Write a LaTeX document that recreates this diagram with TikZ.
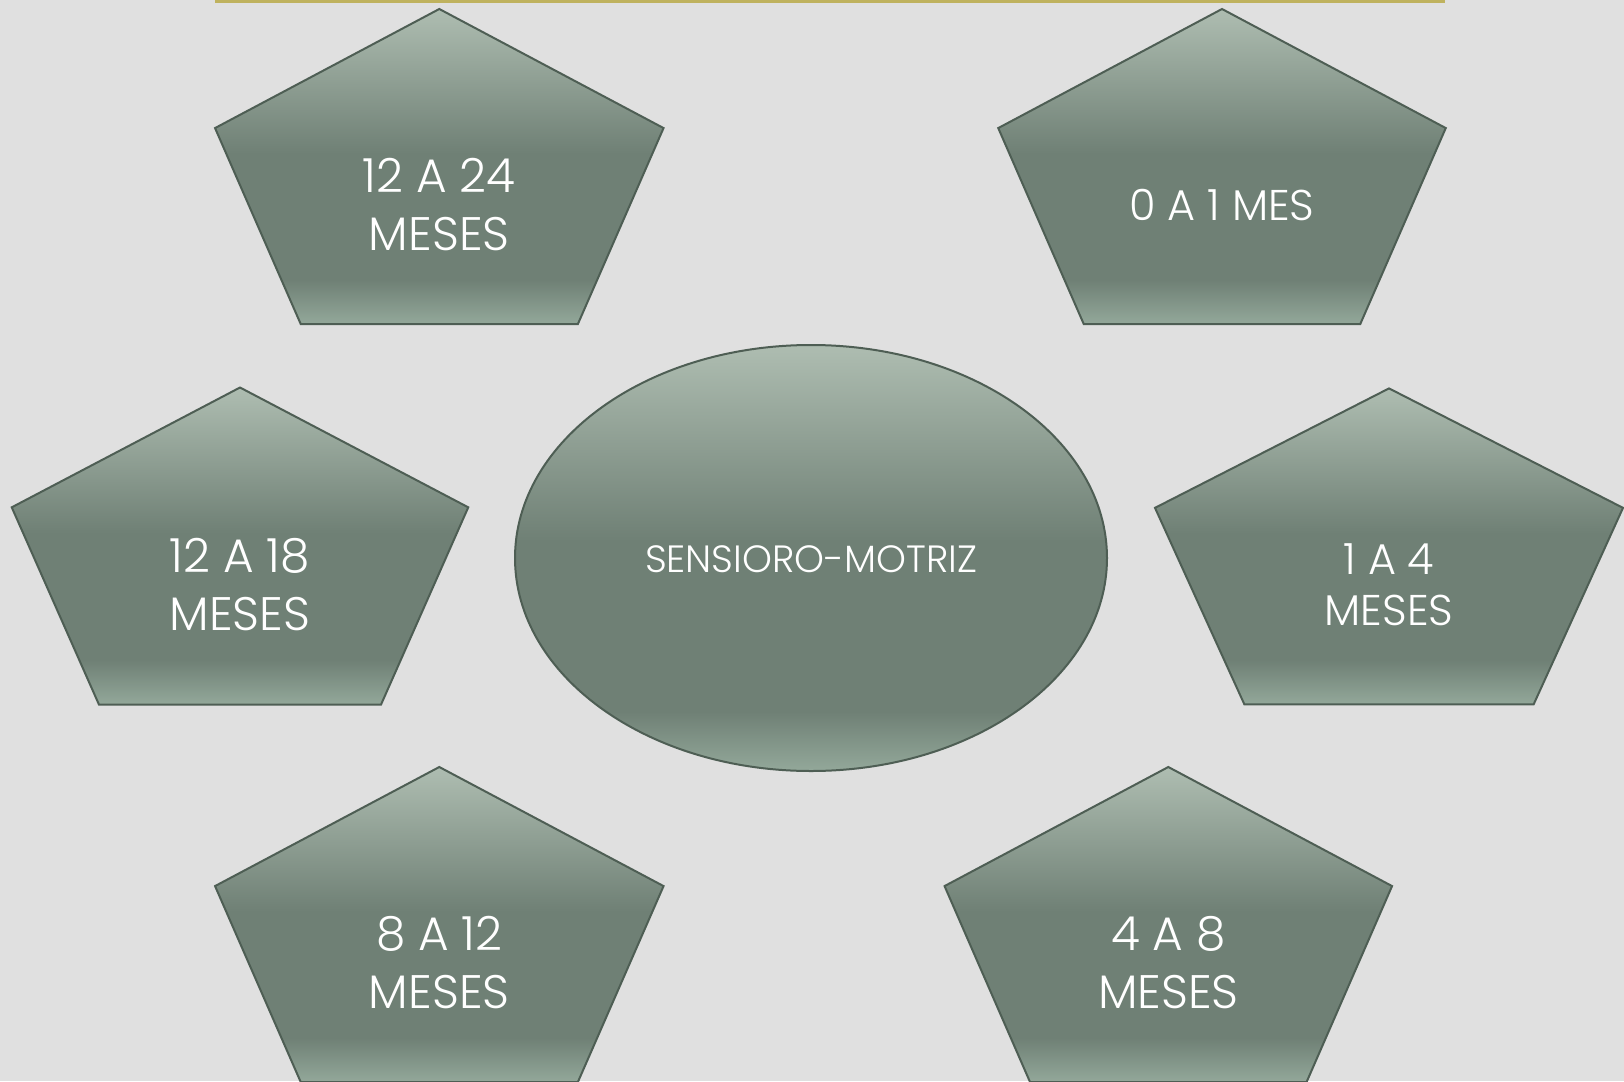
\documentclass[tikz,border=0pt]{standalone}
\usepackage{fontspec}
\usetikzlibrary{shapes.geometric}
\newfontfamily\gfont{Poppins Light}
\definecolor{bg}{HTML}{E0E0E0}
\definecolor{gtop}{HTML}{AEBDB1}
\definecolor{gmid}{HTML}{6F8075}
\definecolor{gbot}{HTML}{93A89A}
\definecolor{gedge}{HTML}{4E5E54}
\definecolor{barline}{HTML}{BFB25E}
\pgfdeclareverticalshading{greenshade}{100bp}{color(0bp)=(gbot); color(25bp)=(gbot); color(32bp)=(gmid); color(52bp)=(gmid); color(75bp)=(gtop); color(100bp)=(gtop)}
\tikzset{
  shapefill/.style={shading=greenshade, draw=gedge, line width=2pt, line join=miter},
  lblbig/.style={text=white, align=center, inner sep=0pt, font=\gfont\fontsize{47}{58}\selectfont},
  lblsmall/.style={text=white, align=center, inner sep=0pt, font=\gfont\fontsize{43}{51}\selectfont},
  lblcenter/.style={text=white, align=center, inner sep=0pt, font=\gfont\fontsize{38}{46}\selectfont}
}
% #1 name, #2 cx, #3 top, #4 width, #5 height
\newcommand\pentashape[5]{%
  \path[shapefill] (#2,#3) -- (#2+0.5*#4,#3+0.378*#5) -- (#2+0.309*#4,#3+#5)
     -- (#2-0.309*#4,#3+#5) -- (#2-0.5*#4,#3+0.378*#5) -- cycle;
  \coordinate (#1) at (#2,#3+0.622*#5);
}
\begin{document}
\begin{tikzpicture}[x=1pt,y=-1pt]
\useasboundingbox (0,0) rectangle (1624,1081);
\fill[bg] (0,0) rectangle (1624,1081);
\draw[barline, line width=3pt, fill=bg] (216,-10) rectangle (1443,1.5);

\pentashape{p1}{439.3}{9}{448.5}{315}
\pentashape{p2}{1222}{9}{447.5}{315}
\pentashape{p3}{240}{387.5}{456.5}{317}
\pentashape{p4}{1389}{388.4}{468}{316}
\pentashape{p5}{439.3}{767}{448.5}{315}
\pentashape{p6}{1168.3}{767}{447.5}{315}

\node[ellipse, shapefill, minimum width=592pt, minimum height=426pt, inner sep=0pt] (center) at (811,558) {};

\node[lblbig] (t1) at (p1) {12 A 24\\MESES};
\node[lblsmall] (t2) at (p2) {0 A 1 MES};
\node[lblbig] (t3) at (p3) {12 A 18\\MESES};
\node[lblsmall] (t4) at (p4) {1 A 4\\MESES};
\node[lblbig] (t5) at (p5) {8 A 12\\MESES};
\node[lblbig] (t6) at (p6) {4 A 8\\MESES};
\node[lblcenter] (tc) at (811,559) {SENSIORO-MOTRIZ};
\end{tikzpicture}
\end{document}
